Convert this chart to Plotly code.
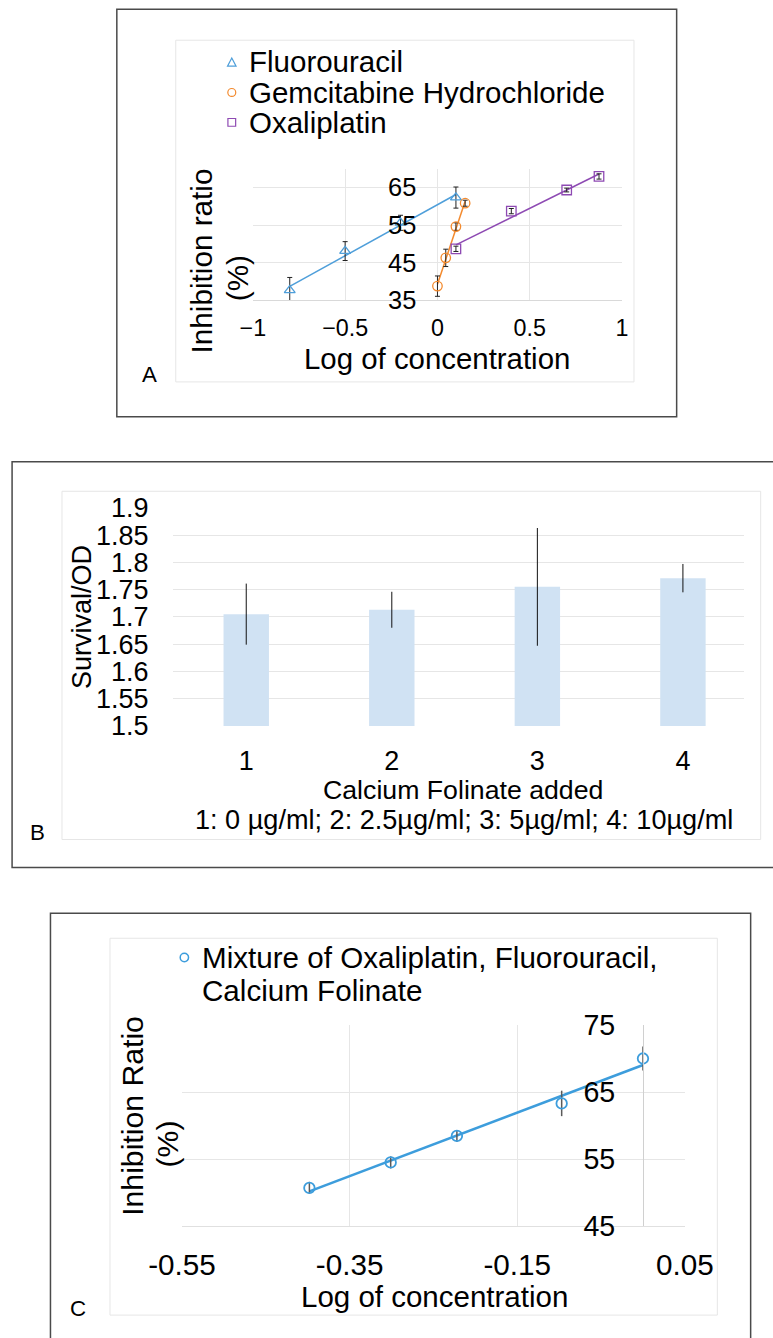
import numpy as np
import plotly.graph_objects as go

W, H = 773, 1338
FONT = "Liberation Sans, Arial, sans-serif"

# ---------------- Panel A data ----------------
a_series = ["Fluorouracil", "Gemcitabine Hydrochloride", "Oxaliplatin"]
fluo_x = [-0.8, -0.5, -0.2, 0.1]
fluo_y = [37.7, 48.1, 55.6, 62.3]
fluo_err = [3.4, 2.5, 2.0, 2.8]
gem_x = [0.0, 0.045, 0.1, 0.15]
gem_y = [38.8, 46.3, 54.6, 60.8]
gem_err = [2.7, 2.3, 1.0, 0.8]
oxa_x = [0.1, 0.4, 0.7, 0.875]
oxa_y = [48.7, 58.7, 64.3, 67.9]
oxa_err = [0.7, 0.7, 0.5, 0.7]

# ---------------- Panel B data ----------------
b_categories = [1, 2, 3, 4]
b_values = [1.705, 1.713, 1.755, 1.771]
b_err = [0.056, 0.033, 0.108, 0.026]

# ---------------- Panel C data ----------------
c_name = ["Mixture of Oxaliplatin, Fluorouracil,", "Calcium Folinate"]
c_x = [-0.398, -0.301, -0.222, -0.097, 0.0]
c_y = [50.7, 54.5, 58.45, 63.3, 70.0]
c_err = [0.9, 0.9, 0.9, 1.9, 1.8]
c_tickvals = [-0.55, -0.35, -0.15, 0.05]
c_ticktext = ["-0.55", "-0.35", "-0.15", "0.05"]

BLUE = "#4F9FDA"
ORANGE = "#F38A2E"
PURPLE = "#8E4AB3"
CBLUE = "#3D9DDC"
GRID = "#E6E6E6"

# The photographed page shows the canvas slightly inset; layout positions below are
# given in target-picture pixels and converted to canvas pixels here.
SX, OX = 0.926, 31.1
SY, OY = 0.979, 14.0
FS = 1.06  # font scale


def cx(x):
    return (x - OX) / SX


def cy(y):
    return (y - OY) / SY


def px(x):
    return cx(x) / W


def py(y):
    return 1 - cy(y) / H


def f(s):
    return round(s * FS, 1)


def trend(xs, ys):
    k, b = np.polyfit(xs, ys, 1)
    xx = np.array([min(xs), max(xs)])
    return xx, k * xx + b


fig = go.Figure()

for xs, ys, es, col, sym, name in [
    (fluo_x, fluo_y, fluo_err, BLUE, "triangle-up-open", a_series[0]),
    (gem_x, gem_y, gem_err, ORANGE, "circle-open", a_series[1]),
    (oxa_x, oxa_y, oxa_err, PURPLE, "square-open", a_series[2]),
]:
    tx, ty = trend(xs, ys)
    fig.add_trace(go.Scatter(x=tx, y=ty, mode="lines", line=dict(color=col, width=1.5),
                             xaxis="x", yaxis="y", hoverinfo="skip", showlegend=False))
    fig.add_trace(go.Scatter(
        x=xs, y=ys, mode="markers", name=name, xaxis="x", yaxis="y",
        marker=dict(symbol=sym, size=9.5, color=col, line=dict(width=1.3, color=col)),
        error_y=dict(type="data", array=es, visible=True, color="#222222", thickness=1, width=2.5),
        showlegend=False))

fig.add_trace(go.Bar(
    x=b_categories, y=[v - 1.5 for v in b_values], base=1.5, width=0.312,
    marker=dict(color="#D0E2F3", line=dict(width=0)),
    error_y=dict(type="data", array=b_err, visible=True, color="#111111", thickness=1, width=0),
    xaxis="x2", yaxis="y2", showlegend=False))

tx, ty = trend(c_x, c_y)
fig.add_trace(go.Scatter(x=tx, y=ty, mode="lines", line=dict(color=CBLUE, width=2.6),
                         xaxis="x3", yaxis="y3", hoverinfo="skip", showlegend=False))
fig.add_trace(go.Scatter(
    x=c_x, y=c_y, mode="markers", name=" ".join(c_name), xaxis="x3", yaxis="y3",
    marker=dict(symbol="circle-open", size=10.5, color=CBLUE, line=dict(width=1.8, color=CBLUE)),
    error_y=dict(type="data", array=c_err, visible=True, color="#5A5A5A", thickness=1.5, width=0),
    showlegend=False))

axis_common = dict(showgrid=True, gridcolor=GRID, gridwidth=1, zeroline=False,
                   ticks="", color="#000000")

# Panel B plot area runs to 758.7 (target px); the canvas ends earlier, so the
# category range is trimmed to keep the same category spacing.
b_left, b_right = cx(171.7), cx(758.7)
b_step = (b_right - b_left) / 4
b_x_end = 0.5 + (min(b_right, W) - b_left) / b_step

fig.update_layout(
    width=W, height=H, margin=dict(l=0, r=0, t=0, b=0), autosize=False,
    paper_bgcolor="white", plot_bgcolor="white", showlegend=False,
    font=dict(family=FONT, color="#000000"),
    xaxis=dict(domain=[px(251.7), px(624)], range=[-1, 1], tick0=-1, dtick=0.5,
               anchor="y", showline=True, linecolor="#D9D9D9", linewidth=1,
               tickfont=dict(size=f(22), family=FONT), ticklabelstandoff=7, **axis_common),
    yaxis=dict(domain=[py(299.3), py(167)], range=[35, 70], tick0=35, dtick=10,
               anchor="free", position=px(436.7), showline=False,
               tickfont=dict(size=f(24), family=FONT), ticklabelstandoff=20, **axis_common),
    xaxis2=dict(domain=[b_left / W, min(b_right, W) / W], range=[0.5, b_x_end],
                tickvals=b_categories, anchor="y2", showline=False, showgrid=False,
                zeroline=False, ticks="",
                tickfont=dict(size=f(25.5), family=FONT), ticklabelstandoff=16),
    yaxis2=dict(domain=[py(726), py(507.3)], range=[1.5, 1.9], tick0=1.5, dtick=0.05,
                anchor="x2", showline=False,
                tickfont=dict(size=f(25.5), family=FONT), ticklabelstandoff=24, **axis_common),
    xaxis3=dict(domain=[px(180.3), px(687.3)], range=[-0.55, 0.05], tickvals=c_tickvals,
                ticktext=c_ticktext, anchor="y3", showline=True, linecolor="#E0E0E0",
                tickfont=dict(size=f(28), family=FONT), ticklabelstandoff=12, **axis_common),
    yaxis3=dict(domain=[py(1227.7), py(1026)], range=[45, 75], tick0=45, dtick=10,
                anchor="free", position=px(645), showline=True, linecolor="#D0D0D0",
                tickfont=dict(size=f(27), family=FONT), ticklabelstandoff=22, **axis_common),
)

shapes = []


def poly(points, col, w, closed):
    path = "M " + " L ".join(f"{px(a):.5f},{py(b):.5f}" for a, b in points)
    if closed:
        path += " Z"
    return dict(type="path", xref="paper", yref="paper", path=path,
                line=dict(color=col, width=w), layer="below")


# outer frames (B open on the right, C open at the bottom: both run off the picture)
shapes.append(poly([(114.6, 7.3), (679, 7.3), (679, 416), (114.6, 416)], "#4A4A4A", 1.5, True))
shapes.append(poly([(800, 461), (9, 461), (9, 868), (800, 868)], "#4A4A4A", 1.5, False))
shapes.append(poly([(47.7, 1345), (47.7, 914), (753.6, 914), (753.6, 1345)], "#4A4A4A", 1.5, False))
for (x0, y0, x1, y1) in [(174, 38.3, 636, 381), (59.3, 490.7, 763.7, 840),
                         (107.7, 939, 720, 1317)]:
    shapes.append(poly([(x0, y0), (x1, y0), (x1, y1), (x0, y1)], "#E6E6E6", 1, True))


def tri(x, y, s, col):
    pts = [(x - s, y + s * 0.9), (x + s, y + s * 0.9), (x, y - s)]
    path = "M " + " L ".join(f"{px(a):.5f},{py(b):.5f}" for a, b in pts) + " Z"
    return dict(type="path", xref="paper", yref="paper", path=path,
                line=dict(color=col, width=1.2))


def circ(x, y, r, col, w=1.2):
    return dict(type="circle", xref="paper", yref="paper", x0=px(x - r), x1=px(x + r),
                y0=py(y + r), y1=py(y - r), line=dict(color=col, width=w))


def sq(x, y, r, col):
    return dict(type="rect", xref="paper", yref="paper", x0=px(x - r), x1=px(x + r),
                y0=py(y + r), y1=py(y - r), line=dict(color=col, width=1.2))


shapes += [tri(230.5, 60.5, 4.3, BLUE), circ(230.5, 90.7, 4.0, ORANGE),
           sq(230.5, 120.7, 3.9, PURPLE), circ(182.7, 958.3, 4.2, CBLUE, 1.5)]
fig.update_layout(shapes=shapes)

ann = []


def text(t, x, y, size, xanchor="center", angle=0):
    ann.append(dict(text=t, x=px(x), y=py(y), xref="paper", yref="paper", showarrow=False,
                    xanchor=xanchor, yanchor="middle", textangle=angle,
                    font=dict(size=f(size), family=FONT, color="#000000")))


for name, yy in zip(a_series, [60, 90.7, 120.7]):
    text(name, 245.5, yy, 27.8, xanchor="left")
text("Log of concentration", 437.5, 358, 27.7)
text("Inhibition ratio", 199.6, 260, 28, angle=-90)
text("(%)", 235.8, 277, 28, angle=-90)
text("A", 148, 374, 21)

text("Calcium Folinate added", 463.5, 790, 25.2)
text("1: 0 \u00b5g/ml; 2: 2.5\u00b5g/ml; 3: 5\u00b5g/ml; 4: 10\u00b5g/ml", 465, 820, 25.6)
text("Survival/OD", 79.6, 616.7, 25.5, angle=-90)
text("B", 34.8, 833, 21)

text(c_name[0], 198.5, 958.3, 27.9, xanchor="left")
text(c_name[1], 198.5, 991.7, 27.9, xanchor="left")
text("Log of concentration", 434.5, 1298.3, 27.8)
text("Inhibition Ratio", 131, 1117, 28.5, angle=-90)
text("(%)", 166, 1145, 28.5, angle=-90)
text("C", 75, 1310, 21)

fig.update_layout(annotations=ann)

fig.write_html("out.html")
